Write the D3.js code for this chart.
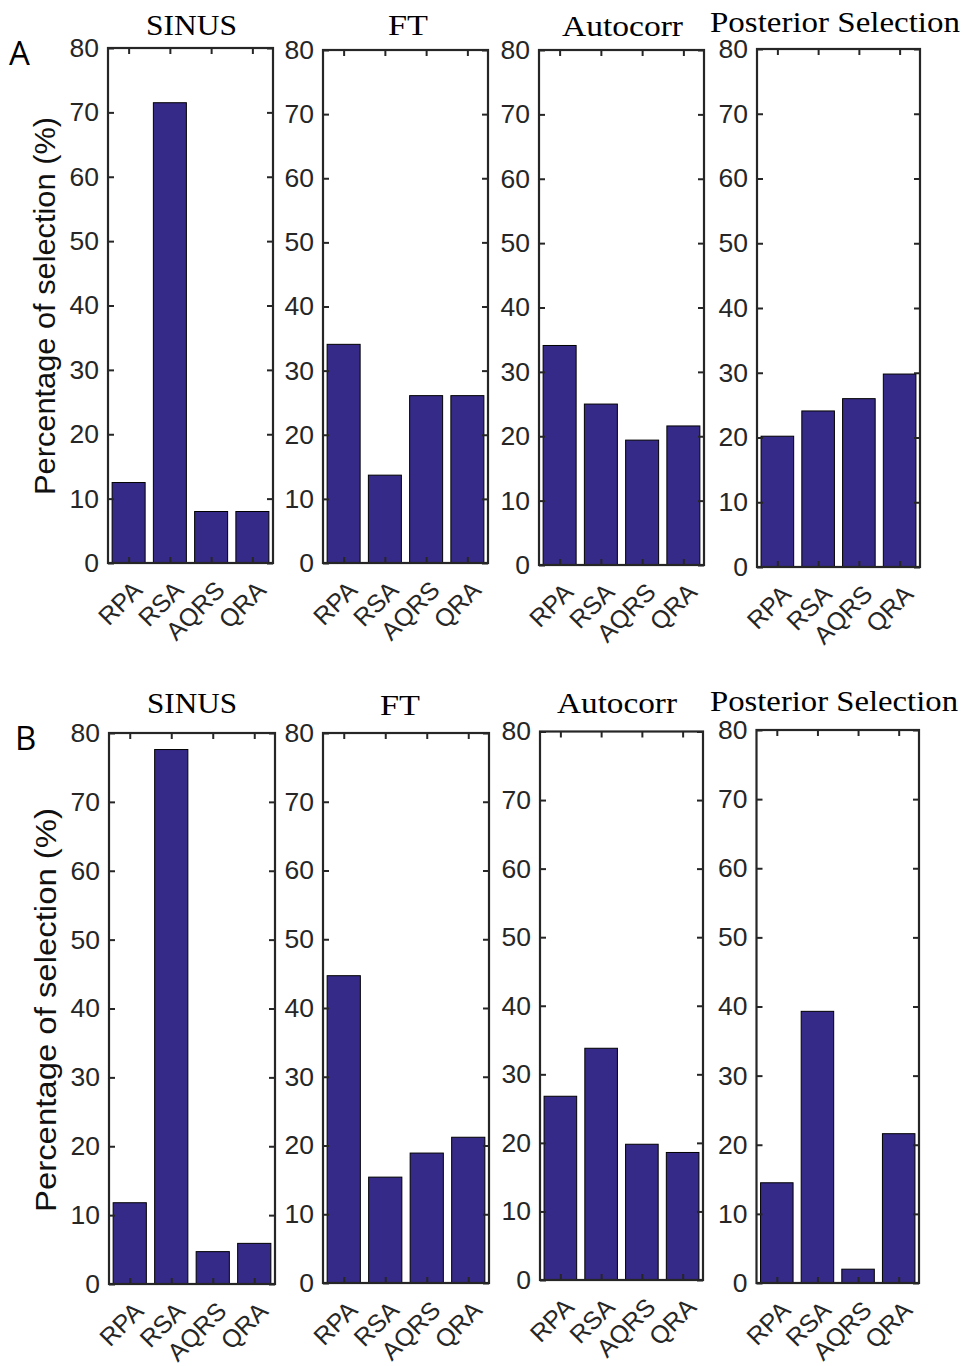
<!DOCTYPE html>
<html>
<head>
<meta charset="utf-8">
<script src="https://cdn.jsdelivr.net/npm/d3@7"></script>
<style>
  html, body { margin: 0; padding: 0; background: #fff; }
  svg { display: block; }
</style>
</head>
<body>
<script>
// ---------- DATA ----------
const categories = ["RPA", "RSA", "AQRS", "QRA"];
const methods = ["SINUS", "FT", "Autocorr", "Posterior Selection"];
const yTicks = [0, 10, 20, 30, 40, 50, 60, 70, 80];

// Panel A
const sinusA     = [12.5, 71.5, 8.0, 8.0];
const ftA        = [34.1, 13.7, 26.1, 26.1];
const autocorrA  = [34.1, 25.0, 19.4, 21.6];
const posteriorA = [20.2, 24.1, 26.0, 29.8];
// Panel B
const sinusB     = [11.8, 77.6, 4.7, 5.9];
const ftB        = [44.7, 15.4, 18.9, 21.2];
const autocorrB  = [26.8, 33.8, 19.8, 18.6];
const posteriorB = [14.5, 39.3, 2.0, 21.6];

const yLabel = "Percentage of selection (%)";
const panelLetters = ["A", "B"];

// ---------- LAYOUT ----------
const W = 963, H = 1366;
const layoutA = [
  {x0: 108, x1: 273, y0: 48, y1: 563},
  {x0: 323, x1: 488, y0: 50, y1: 563},
  {x0: 539, x1: 704, y0: 50, y1: 565},
  {x0: 757, x1: 920, y0: 49, y1: 567}
];
const layoutB = [
  {x0: 109, x1: 275, y0: 733, y1: 1284},
  {x0: 323, x1: 489, y0: 733, y1: 1283},
  {x0: 540, x1: 703, y0: 731.5, y1: 1280},
  {x0: 756.5, x1: 919, y0: 730, y1: 1283}
];
const titlesA = [
  {cx: 191.5, y: 35, w: 91}, {cx: 408, y: 35, w: 40},
  {cx: 622.5, y: 36, w: 121}, {cx: 835, y: 32, w: 250}
];
const titlesB = [
  {cx: 192, y: 713, w: 90}, {cx: 400, y: 715, w: 40},
  {cx: 617, y: 713, w: 120}, {cx: 834, y: 711, w: 248}
];
const rows = [
  {series: [sinusA, ftA, autocorrA, posteriorA], layout: layoutA, titles: titlesA,
   letter: {x: 9, y: 65}, ylab: {x: 55, cy: 306, len: 378}},
  {series: [sinusB, ftB, autocorrB, posteriorB], layout: layoutB, titles: titlesB,
   letter: {x: 15, y: 750}, ylab: {x: 56, cy: 1010, len: 404}}
];

const barColor = "#352a87";
const axisColor = "#262626";
const tickFont = "Liberation Sans, Arial, Helvetica, sans-serif";
const titleFont = "Liberation Serif, 'Times New Roman', serif";

const svg = d3.select("body").append("svg")
  .attr("width", W).attr("height", H)
  .attr("viewBox", `0 0 ${W} ${H}`);

rows.forEach((row, ri) => {
  svg.append("text")
    .attr("x", row.letter.x).attr("y", row.letter.y)
    .attr("font-family", "'Open Sans', 'Liberation Sans', sans-serif")
    .attr("font-size", 33).attr("fill", "#000")
    .text(panelLetters[ri]);

  svg.append("text")
    .attr("transform", `translate(${row.ylab.x},${row.ylab.cy}) rotate(-90)`)
    .attr("text-anchor", "middle")
    .attr("font-family", tickFont)
    .attr("font-size", 29)
    .attr("textLength", row.ylab.len)
    .attr("lengthAdjust", "spacingAndGlyphs")
    .attr("fill", "#111")
    .text(yLabel);

  row.series.forEach((vals, pi) => {
    const L = row.layout[pi];
    const T = row.titles[pi];
    const x = d3.scaleLinear().domain([0.5, 4.5]).range([L.x0, L.x1]);
    const y = d3.scaleLinear().domain([0, 80]).range([L.y1, L.y0]);
    const g = svg.append("g");

    g.append("text")
      .attr("x", T.cx).attr("y", T.y)
      .attr("text-anchor", "middle")
      .attr("font-family", titleFont)
      .attr("font-size", 29)
      .attr("textLength", T.w)
      .attr("lengthAdjust", "spacingAndGlyphs")
      .attr("fill", "#000")
      .text(methods[pi]);

    g.selectAll("rect.bar")
      .data(vals)
      .join("rect")
      .attr("class", "bar")
      .attr("x", (d, i) => x(i + 1 - 0.4))
      .attr("width", (d, i) => x(i + 1 + 0.4) - x(i + 1 - 0.4))
      .attr("y", d => y(d))
      .attr("height", d => y(0) - y(d))
      .attr("fill", barColor)
      .attr("stroke", "#000")
      .attr("stroke-width", 1);

    const xt = [1, 2, 3, 4];
    const gl = g.append("g").attr("transform", `translate(${L.x0},0)`)
      .call(d3.axisLeft(y).tickValues(yTicks).tickFormat(d3.format("d"))
        .tickSize(-6).tickSizeOuter(0).tickPadding(9));
    const gr = g.append("g").attr("transform", `translate(${L.x1},0)`)
      .call(d3.axisRight(y).tickValues(yTicks).tickFormat("")
        .tickSize(-6).tickSizeOuter(0));
    const gt = g.append("g").attr("transform", `translate(0,${L.y0})`)
      .call(d3.axisTop(x).tickValues(xt).tickFormat("")
        .tickSize(-6).tickSizeOuter(0));
    const gb = g.append("g").attr("transform", `translate(0,${L.y1})`)
      .call(d3.axisBottom(x).tickValues(xt).tickFormat(i => categories[i - 1])
        .tickSize(-6).tickSizeOuter(0));

    [gl, gr, gt, gb].forEach(a => {
      a.select(".domain").remove();
      a.selectAll("line").attr("stroke", axisColor).attr("stroke-width", 2);
      a.selectAll("text").attr("fill", axisColor)
        .attr("font-family", tickFont);
    });
    gl.selectAll("text").attr("font-size", 26.5);

    gb.selectAll("text")
      .attr("font-size", 25)
      .attr("x", 0).attr("y", 0).attr("dy", "0.72em")
      .attr("text-anchor", "end")
      .attr("transform", "translate(2,16) rotate(-45)");

    g.append("rect")
      .attr("x", L.x0).attr("y", L.y0)
      .attr("width", L.x1 - L.x0).attr("height", L.y1 - L.y0)
      .attr("fill", "none").attr("stroke", axisColor).attr("stroke-width", 2.2);
  });
});
</script>
</body>
</html>
